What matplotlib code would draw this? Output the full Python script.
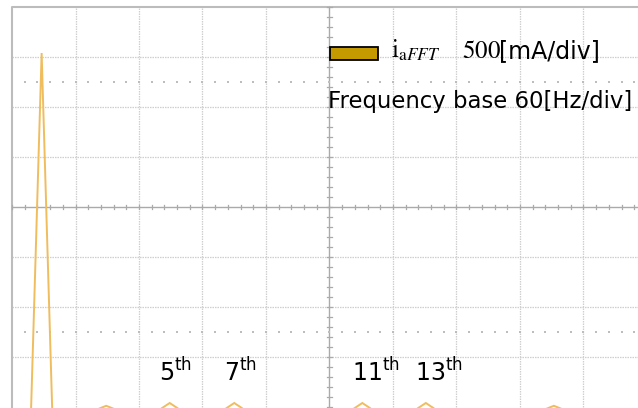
import numpy as np
import matplotlib
matplotlib.use('Agg')
import matplotlib.pyplot as plt
from matplotlib.patches import Rectangle

# Spectrum peaks (Hz, A)
harm_freq = [28, 89, 149, 210, 331, 391, 512]
harm_amp = [3.54, 0.012, 0.04, 0.04, 0.04, 0.04, 0.012]
base_amp = -0.03
half_width = 10  # Hz, FFT bin spacing

# Annotated harmonics
label_text = ['5', '7', '11', '13']
label_freq = [149, 210, 331, 391]

# Scope settings
hz_per_div = 60
amp_per_div = 0.5
n_xdiv = 10
n_ydiv = 8

# Build trace from peaks
trace_f = [0]
trace_a = [base_amp]
for f, a in zip(harm_freq, harm_amp):
    trace_f += [f - half_width, f, f + half_width]
    trace_a += [base_amp, a, base_amp]
trace_f.append(n_xdiv * hz_per_div)
trace_a.append(base_amp)

fig = plt.figure(figsize=(6.38, 4.08), dpi=100)
ax = fig.add_axes([0, 0, 1, 1])
ax.set_xlim(-11.34, 591.5)
ax.set_ylim(-0.01, 4.07)
ax.axis('off')

x_max = n_xdiv * hz_per_div
y_max = n_ydiv * amp_per_div
x_mid = x_max / 2
y_mid = y_max / 2

grid_col = '#cfcfcf'
# grid lines
for i in range(1, n_xdiv):
    if i * hz_per_div == x_mid:
        continue
    ax.plot([i * hz_per_div] * 2, [0, y_max], color=grid_col, lw=0.9,
            ls=(0, (1.2, 0.8)), zorder=1)
for j in range(1, n_ydiv):
    if j * amp_per_div == y_mid:
        continue
    ax.plot([0, x_max], [j * amp_per_div] * 2, color=grid_col, lw=0.9,
            ls=(0, (1.2, 0.8)), zorder=1)

# border
ax.plot([0, 0, x_max], [0, y_max, y_max], color='#bcbcbc', lw=1.5, zorder=1)

# centre crosshair with minor ticks
ax.plot([0, x_max], [y_mid, y_mid], color='#aaaaaa', lw=1.0, zorder=1)
ax.plot([x_mid, x_mid], [0, y_max], color='#aaaaaa', lw=1.0, zorder=1)
xt = np.arange(0, x_max + 1e-6, hz_per_div / 5)
yt = np.arange(0, y_max + 1e-6, amp_per_div / 5)
dy = 0.02
dx = 2.0
for x in xt:
    ax.plot([x, x], [y_mid - dy, y_mid + dy], color='#aaaaaa', lw=0.9, zorder=1)
for y in yt:
    ax.plot([x_mid - dx, x_mid + dx], [y, y], color='#aaaaaa', lw=0.9, zorder=1)

# dotted reference rows at +/- 2.5 div
for y in [y_mid - 2.5 * amp_per_div, y_mid + 2.5 * amp_per_div]:
    ax.scatter(xt[1:-1], [y] * len(xt[1:-1]), s=1.0, color='#bdbdbd',
               marker='s', linewidths=0, zorder=1)

# FFT trace
ax.plot(trace_f, trace_a, color='#efbd5e', lw=1.4, zorder=3,
        solid_joinstyle='miter')

# harmonic labels
for t, f in zip(label_text, label_freq):
    ax.text(f - 10, 0.26, t + r'$^{\mathrm{th}}$', fontsize=17,
            ha='left', va='baseline', color='black',
            math_fontfamily='dejavusans', zorder=4)

# legend box
ax.add_patch(Rectangle((300.5, 3.47), 45, 0.13, facecolor='#c49a00',
                       edgecolor='black', lw=1.3, zorder=4))
ax.text(358, 3.49, r'$\mathrm{i}_{\mathrm{a}FFT}$', fontsize=18,
        math_fontfamily='stix', ha='left', va='baseline', zorder=4)
ax.text(425, 3.49, r'$500$', fontsize=18,
        math_fontfamily='stix', ha='left', va='baseline', zorder=4)
ax.text(460, 3.49, '[mA/div]', fontsize=17, ha='left', va='baseline',
        zorder=4)
ax.text(299, 2.99, 'Frequency base 60[Hz/div]', fontsize=16.4,
        ha='left', va='baseline', zorder=4)

fig.savefig('out.png', dpi=100)
